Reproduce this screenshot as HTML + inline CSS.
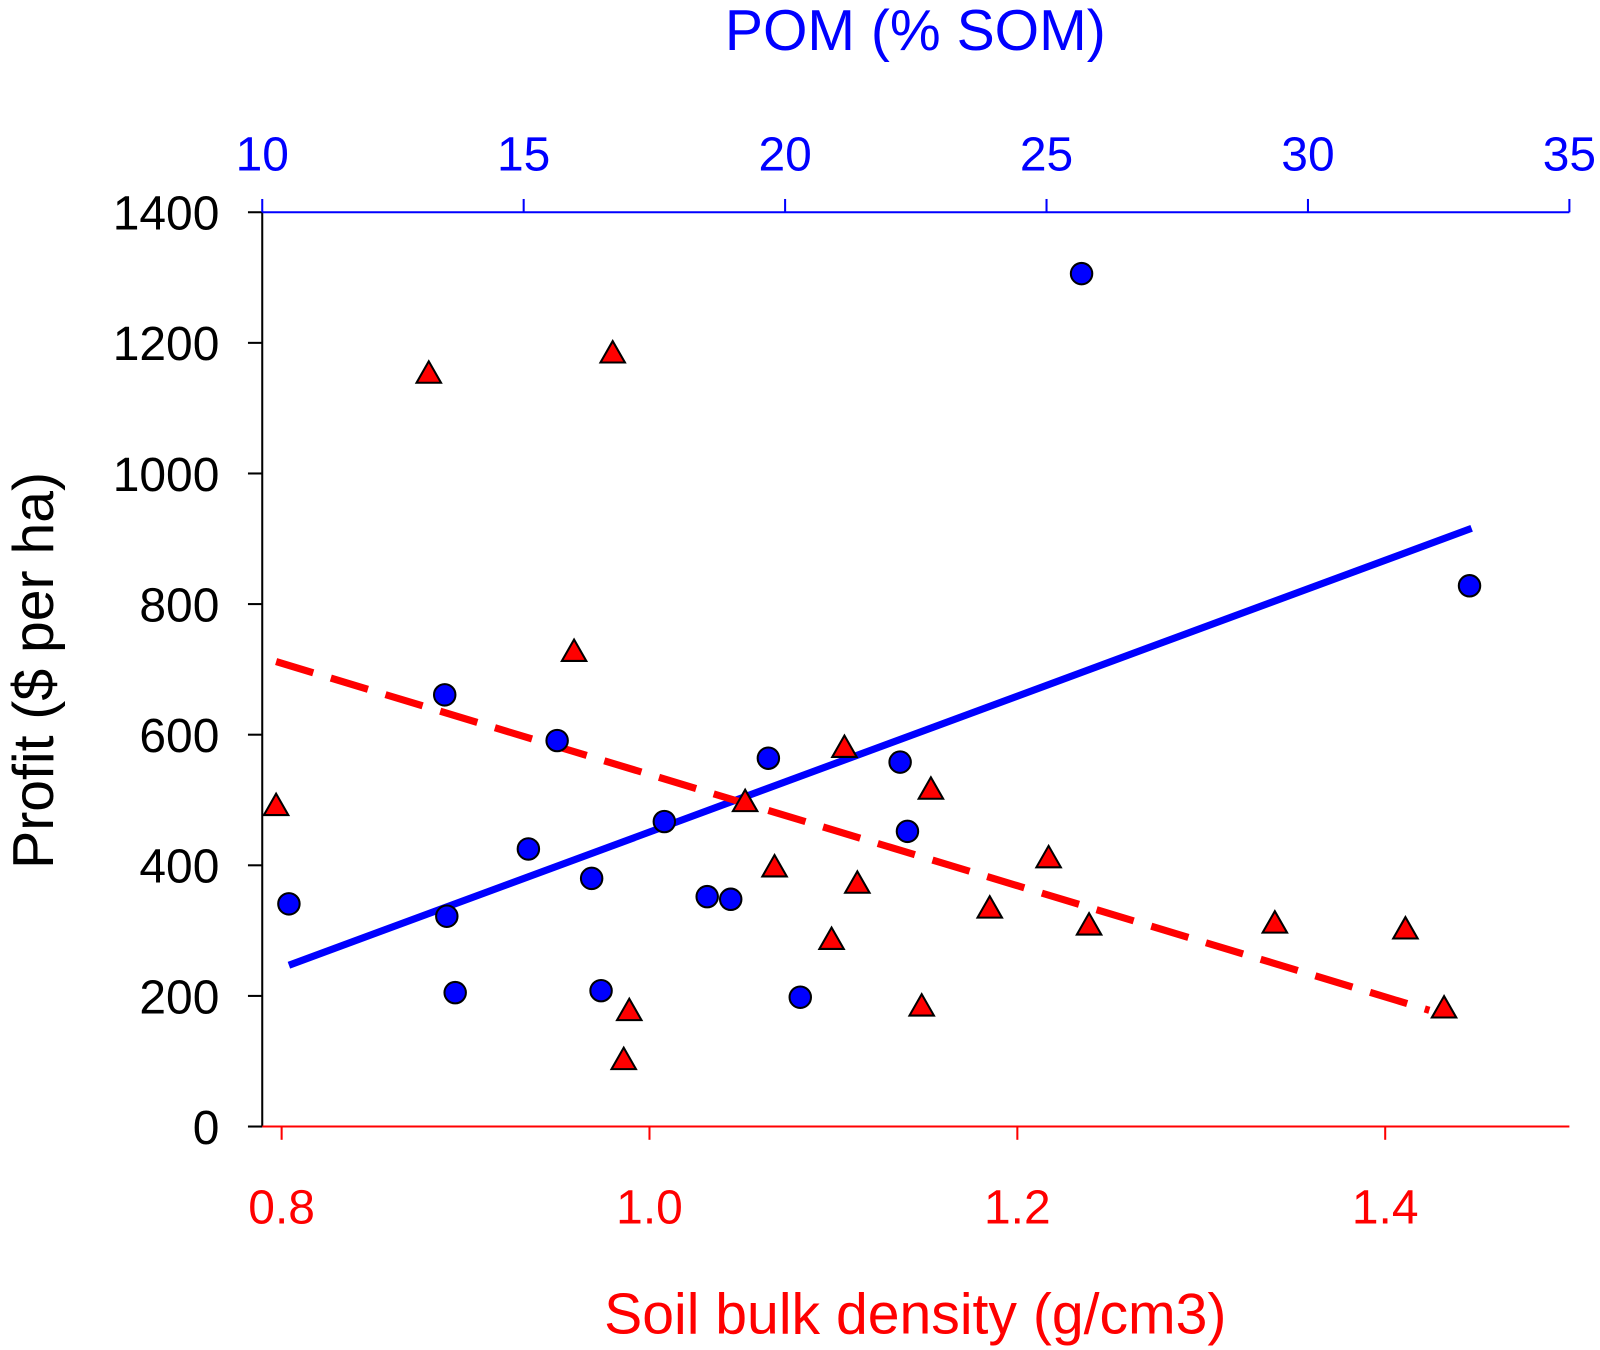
<!DOCTYPE html>
<html><head><meta charset="utf-8"><style>
html,body{margin:0;padding:0;background:#fff;}
svg{display:block;font-family:"Liberation Sans",sans-serif;}
</style></head><body>
<svg id="chart" width="1600" height="1350" viewBox="0 0 1568 1323" xmlns="http://www.w3.org/2000/svg"></svg>
<script>
const yTicks=[0,200,400,600,800,1000,1200,1400];
const topTicks=[10,15,20,25,30,35];
const botTicks=[0.8,1.0,1.2,1.4];
const pomX=[10.51,13.49,13.53,13.69,15.09,15.64,16.30,16.48,17.69,18.51,18.96,19.68,20.29,22.20,22.34,25.67,33.09];
const pomY=[341,661,322,205,425,591,380,208,467,352,348,564,198,558,452,1306,828];
const bdX=[0.797,0.880,0.980,0.959,1.106,1.153,1.052,1.068,1.113,1.099,0.989,0.986,1.148,1.185,1.217,1.239,1.340,1.411,1.432];
const bdY=[491,1153,1184,727,580,516,497,397,372,286,177,102,184,334,411,308,311,302,181];
const pomLineX=[10.51,33.13];
const pomLineY=[247,916];
const bdLineX=[0.797,1.424];
const bdLineY=[712,178];

const L=257,R=1538,T=208,B=1104;
const sy=v=>B-(v/1400)*(B-T);
const sxTop=v=>L+(v-10)/25*(R-L);
const sxBot=v=>276+(v-0.8)/0.2*360.5;
const svg=document.getElementById('chart');
const NS='http://www.w3.org/2000/svg';
function el(tag,attrs,parent){const e=document.createElementNS(NS,tag);for(const k in attrs)e.setAttribute(k,attrs[k]);(parent||svg).appendChild(e);return e;}

let a=el('line',{x1:L,y1:T,x2:L,y2:B,stroke:'#000','stroke-width':2});


a=el('line',{x1:L,y1:T,x2:R,y2:T,stroke:'#0000ff','stroke-width':2});


a=el('line',{x1:L,y1:B,x2:R,y2:B,stroke:'#ff0000','stroke-width':2});



yTicks.forEach(v=>{
  el('line',{x1:L-14,y1:sy(v),x2:L,y2:sy(v),stroke:'#000','stroke-width':2});
  const t=el('text',{x:L-42,y:sy(v)+17,'text-anchor':'end','font-size':47,fill:'#000'});
  t.textContent=v;
  
  
});
topTicks.forEach(v=>{
  el('line',{x1:sxTop(v),y1:T,x2:sxTop(v),y2:T-13,stroke:'#0000ff','stroke-width':2});
  const t=el('text',{x:sxTop(v),y:T-41,'text-anchor':'middle','font-size':47,fill:'#0000ff'});
  t.textContent=v;
  
  
});
botTicks.forEach(v=>{
  el('line',{x1:sxBot(v),y1:B,x2:sxBot(v),y2:B+13,stroke:'#ff0000','stroke-width':2});
  const t=el('text',{x:sxBot(v),y:B+95,'text-anchor':'middle','font-size':47,fill:'#ff0000'});
  t.textContent=v.toFixed(1);
  
  
});

let t=el('text',{x:897,y:49,'text-anchor':'middle','font-size':56,fill:'#0000ff'});
t.textContent='POM (% SOM)';


t=el('text',{x:897,y:1307,'text-anchor':'middle','font-size':56,fill:'#ff0000'});
t.textContent='Soil bulk density (g/cm3)';


t=el('text',{x:52,y:657,'text-anchor':'middle','font-size':56,fill:'#000',transform:'rotate(-90 52 657)'});
t.textContent='Profit ($ per ha)';



let ln=el('line',{x1:sxTop(pomLineX[0]),y1:sy(pomLineY[0]),x2:sxTop(pomLineX[1]),y2:sy(pomLineY[1]),stroke:'#0000ff','stroke-width':7});


ln=el('line',{x1:sxBot(bdLineX[0]),y1:sy(bdLineY[0]),x2:sxBot(bdLineX[1]),y2:sy(bdLineY[1]),stroke:'#ff0000','stroke-width':7,'stroke-dasharray':'38 18'});



bdX.forEach((x,i)=>{
  const cx=sxBot(x),cy=sy(bdY[i]);
  const p=el('polygon',{points:`${cx},${cy-12} ${cx-12},${cy+9} ${cx+12},${cy+9}`,fill:'#ff0000',stroke:'#000','stroke-width':2});
  
  
});
pomX.forEach((x,i)=>{
  const c=el('circle',{cx:sxTop(x),cy:sy(pomY[i]),r:10.5,fill:'#0000ff',stroke:'#000','stroke-width':2});
  
  
});
</script>
</body></html>
